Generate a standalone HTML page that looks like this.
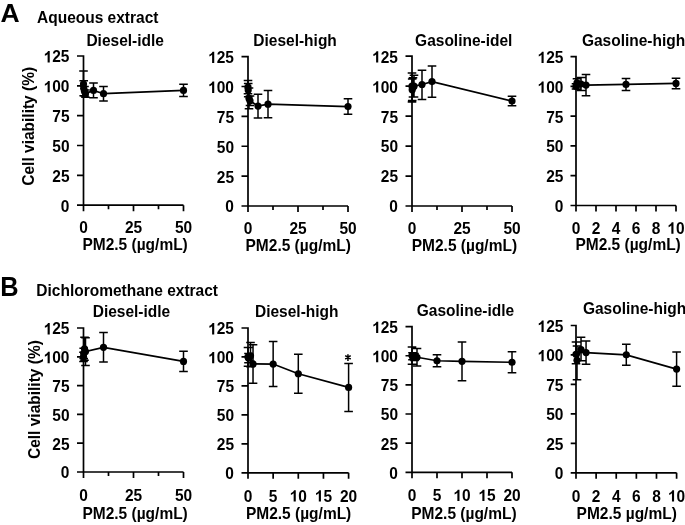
<!DOCTYPE html>
<html><head><meta charset="utf-8"><style>
html,body{margin:0;padding:0;background:#fff;}
body{width:685px;height:525px;overflow:hidden;}
svg{display:block;filter:grayscale(1);}
text{font-family:"Liberation Sans",sans-serif;font-weight:bold;font-size:16.5px;fill:#000;}
</style></head><body>
<svg width="685" height="525" viewBox="0 0 685 525">
<rect width="685" height="525" fill="#fff"/>
<text transform="translate(0.6 22.3) scale(1.02 1)" style="font-size:26px">A</text>
<text transform="translate(37 23) scale(0.94 1)">Aqueous extract</text>
<text transform="translate(0.3 296.0) scale(0.94 1)" style="font-size:27px">B</text>
<text transform="translate(36.3 296.2) scale(0.94 1)">Dichloromethane extract</text>
<text transform="translate(34.4 185.7) rotate(-90) scale(0.94 1)">Cell viability (%)</text>
<text transform="translate(40.1 459) rotate(-90) scale(0.94 1)">Cell viability (%)</text>
<path d="M83.5 55.15V211.2M77 205.2H183.5M77 205.2H83.5M77 175.36H83.5M77 145.52H83.5M77 115.68H83.5M77 85.84H83.5M77 56H83.5M83.5 205.2V211.2M133.5 205.2V211.2M183.5 205.2V211.2M108.5 205.2V209.2M158.5 205.2V209.2" stroke-width="1.7" fill="none" stroke="#000"/>
<text transform="translate(69.5 211.6) scale(0.94 1)" text-anchor="end">0</text>
<text transform="translate(69.5 181.76) scale(0.94 1)" text-anchor="end">25</text>
<text transform="translate(69.5 151.92) scale(0.94 1)" text-anchor="end">50</text>
<text transform="translate(69.5 122.08) scale(0.94 1)" text-anchor="end">75</text>
<text transform="translate(69.5 92.24) scale(0.94 1)" text-anchor="end"> 00</text><path transform="translate(43.64 92.24) scale(0.007568 -0.008057)" d="M806 0H525V1020Q371 880 162 815V1060Q272 1094 401 1190Q530 1286 578 1409H806Z"/>
<text transform="translate(69.5 62.4) scale(0.94 1)" text-anchor="end"> 25</text><path transform="translate(43.64 62.4) scale(0.007568 -0.008057)" d="M806 0H525V1020Q371 880 162 815V1060Q272 1094 401 1190Q530 1286 578 1409H806Z"/>
<text transform="translate(83.5 233.4) scale(0.94 1)" text-anchor="middle">0</text>
<text transform="translate(133.5 233.4) scale(0.94 1)" text-anchor="middle">25</text>
<text transform="translate(183.5 233.4) scale(0.94 1)" text-anchor="middle">50</text>
<text transform="translate(135.1 250.1) scale(0.94 1)" text-anchor="middle">PM2.5 (µg/mL)</text>
<text transform="translate(86.4 46) scale(0.94 1)">Diesel-idle</text>
<path d="M83.5 84.05 L83.7 88.23 L84.5 91.21 L85.5 93.6 L93.5 90.38 L103.5 93.72 L183.5 90.38" stroke-width="1.7" fill="none" stroke="#000"/>
<path d="M83.5 70.92V84.05M79.2 70.92H87.8M83.7 80.71V95.75M79.4 80.71H88M79.4 95.75H88M84.5 86.44V95.99M80.2 86.44H88.8M80.2 95.99H88.8M85.5 90.02V97.18M81.2 90.02H89.8M81.2 97.18H89.8M93.5 82.98V97.78M89.2 82.98H97.8M89.2 97.78H97.8M103.5 86.56V100.88M99.2 86.56H107.8M99.2 100.88H107.8M183.5 84.29V96.46M179.2 84.29H187.8M179.2 96.46H187.8" stroke-width="1.5" fill="none" stroke="#000"/>
<circle cx="83.5" cy="84.05" r="3.6"/>
<circle cx="83.7" cy="88.23" r="3.6"/>
<circle cx="84.5" cy="91.21" r="3.6"/>
<circle cx="85.5" cy="93.6" r="3.6"/>
<circle cx="93.5" cy="90.38" r="3.6"/>
<circle cx="103.5" cy="93.72" r="3.6"/>
<circle cx="183.5" cy="90.38" r="3.6"/>
<path d="M248 55.75V212M241.5 206H348M241.5 206H248M241.5 176.12H248M241.5 146.24H248M241.5 116.36H248M241.5 86.48H248M241.5 56.6H248M248 206V212M298 206V212M348 206V212M273 206V210M323 206V210" stroke-width="1.7" fill="none" stroke="#000"/>
<text transform="translate(234 212.4) scale(0.94 1)" text-anchor="end">0</text>
<text transform="translate(234 182.52) scale(0.94 1)" text-anchor="end">25</text>
<text transform="translate(234 152.64) scale(0.94 1)" text-anchor="end">50</text>
<text transform="translate(234 122.76) scale(0.94 1)" text-anchor="end">75</text>
<text transform="translate(234 92.88) scale(0.94 1)" text-anchor="end"> 00</text><path transform="translate(208.14 92.88) scale(0.007568 -0.008057)" d="M806 0H525V1020Q371 880 162 815V1060Q272 1094 401 1190Q530 1286 578 1409H806Z"/>
<text transform="translate(234 63) scale(0.94 1)" text-anchor="end"> 25</text><path transform="translate(208.14 63) scale(0.007568 -0.008057)" d="M806 0H525V1020Q371 880 162 815V1060Q272 1094 401 1190Q530 1286 578 1409H806Z"/>
<text transform="translate(248 234.2) scale(0.94 1)" text-anchor="middle">0</text>
<text transform="translate(298 234.2) scale(0.94 1)" text-anchor="middle">25</text>
<text transform="translate(348 234.2) scale(0.94 1)" text-anchor="middle">50</text>
<text transform="translate(298.2 250.9) scale(0.94 1)" text-anchor="middle">PM2.5 (µg/mL)</text>
<text transform="translate(253.3 46.3) scale(0.94 1)">Diesel-high</text>
<path d="M248 87.08 L248.2 90.07 L249 98.43 L250 100.82 L258 106.08 L268 104.17 L348 106.56" stroke-width="1.7" fill="none" stroke="#000"/>
<path d="M248 80.5V93.65M243.7 80.5H252.3M243.7 93.65H252.3M248.2 83.49V96.64M243.9 83.49H252.5M243.9 96.64H252.5M249 88.03V108.83M244.7 88.03H253.3M244.7 108.83H253.3M250 96.04V105.6M245.7 96.04H254.3M245.7 105.6H254.3M258 94.13V118.03M253.7 94.13H262.3M253.7 118.03H262.3M268 90.54V117.79M263.7 90.54H272.3M263.7 117.79H272.3M348 98.79V114.33M343.7 98.79H352.3M343.7 114.33H352.3" stroke-width="1.5" fill="none" stroke="#000"/>
<circle cx="248" cy="87.08" r="3.6"/>
<circle cx="248.2" cy="90.07" r="3.6"/>
<circle cx="249" cy="98.43" r="3.6"/>
<circle cx="250" cy="100.82" r="3.6"/>
<circle cx="258" cy="106.08" r="3.6"/>
<circle cx="268" cy="104.17" r="3.6"/>
<circle cx="348" cy="106.56" r="3.6"/>
<path d="M412 55.35V212M405.5 206H512M405.5 206H412M405.5 176.04H412M405.5 146.08H412M405.5 116.12H412M405.5 86.16H412M405.5 56.2H412M412 206V212M462 206V212M512 206V212M437 206V210M487 206V210" stroke-width="1.7" fill="none" stroke="#000"/>
<text transform="translate(398 212.4) scale(0.94 1)" text-anchor="end">0</text>
<text transform="translate(398 182.44) scale(0.94 1)" text-anchor="end">25</text>
<text transform="translate(398 152.48) scale(0.94 1)" text-anchor="end">50</text>
<text transform="translate(398 122.52) scale(0.94 1)" text-anchor="end">75</text>
<text transform="translate(398 92.56) scale(0.94 1)" text-anchor="end"> 00</text><path transform="translate(372.14 92.56) scale(0.007568 -0.008057)" d="M806 0H525V1020Q371 880 162 815V1060Q272 1094 401 1190Q530 1286 578 1409H806Z"/>
<text transform="translate(398 62.6) scale(0.94 1)" text-anchor="end"> 25</text><path transform="translate(372.14 62.6) scale(0.007568 -0.008057)" d="M806 0H525V1020Q371 880 162 815V1060Q272 1094 401 1190Q530 1286 578 1409H806Z"/>
<text transform="translate(412 234.2) scale(0.94 1)" text-anchor="middle">0</text>
<text transform="translate(462 234.2) scale(0.94 1)" text-anchor="middle">25</text>
<text transform="translate(512 234.2) scale(0.94 1)" text-anchor="middle">50</text>
<text transform="translate(464.4 250.9) scale(0.94 1)" text-anchor="middle">PM2.5 (µg/mL)</text>
<text transform="translate(415.1 46.2) scale(0.94 1)">Gasoline-idel</text>
<path d="M412 86.16 L412.2 89.76 L413 87.36 L414 86.16 L422 84.48 L432 81.61 L512 101.02" stroke-width="1.7" fill="none" stroke="#000"/>
<path d="M412 72.98V101.98M407.7 72.98H416.3M407.7 101.98H416.3M412.2 78.97V100.54M407.9 78.97H416.5M407.9 100.54H416.5M413 77.77V96.95M408.7 77.77H417.3M408.7 96.95H417.3M414 75.37V96.95M409.7 75.37H418.3M409.7 96.95H418.3M422 70.22V99.46M417.7 70.22H426.3M417.7 99.46H426.3M432 65.91V97.31M427.7 65.91H436.3M427.7 97.31H436.3M512 96.23V105.81M507.7 96.23H516.3M507.7 105.81H516.3" stroke-width="1.5" fill="none" stroke="#000"/>
<circle cx="412" cy="86.16" r="3.6"/>
<circle cx="412.2" cy="89.76" r="3.6"/>
<circle cx="413" cy="87.36" r="3.6"/>
<circle cx="414" cy="86.16" r="3.6"/>
<circle cx="422" cy="84.48" r="3.6"/>
<circle cx="432" cy="81.61" r="3.6"/>
<circle cx="512" cy="101.02" r="3.6"/>
<path d="M576 55.75V211.5M570.5 205.5H676M570.5 205.5H576M570.5 175.72H576M570.5 145.94H576M570.5 116.16H576M570.5 86.38H576M570.5 56.6H576M576 205.5V211.5M596 205.5V211.5M616 205.5V211.5M636 205.5V211.5M656 205.5V211.5M676 205.5V211.5" stroke-width="1.7" fill="none" stroke="#000"/>
<text transform="translate(563.4 211.9) scale(0.94 1)" text-anchor="end">0</text>
<text transform="translate(563.4 182.12) scale(0.94 1)" text-anchor="end">25</text>
<text transform="translate(563.4 152.34) scale(0.94 1)" text-anchor="end">50</text>
<text transform="translate(563.4 122.56) scale(0.94 1)" text-anchor="end">75</text>
<text transform="translate(563.4 92.78) scale(0.94 1)" text-anchor="end"> 00</text><path transform="translate(537.54 92.78) scale(0.007568 -0.008057)" d="M806 0H525V1020Q371 880 162 815V1060Q272 1094 401 1190Q530 1286 578 1409H806Z"/>
<text transform="translate(563.4 63) scale(0.94 1)" text-anchor="end"> 25</text><path transform="translate(537.54 63) scale(0.007568 -0.008057)" d="M806 0H525V1020Q371 880 162 815V1060Q272 1094 401 1190Q530 1286 578 1409H806Z"/>
<text transform="translate(576 233.7) scale(0.94 1)" text-anchor="middle">0</text>
<text transform="translate(596 233.7) scale(0.94 1)" text-anchor="middle">2</text>
<text transform="translate(616 233.7) scale(0.94 1)" text-anchor="middle">4</text>
<text transform="translate(636 233.7) scale(0.94 1)" text-anchor="middle">6</text>
<text transform="translate(656 233.7) scale(0.94 1)" text-anchor="middle">8</text>
<text transform="translate(676 233.7) scale(0.94 1)" text-anchor="middle"> 0</text><path transform="translate(667.38 233.7) scale(0.007568 -0.008057)" d="M806 0H525V1020Q371 880 162 815V1060Q272 1094 401 1190Q530 1286 578 1409H806Z"/>
<text transform="translate(628.1 250.4) scale(0.94 1)" text-anchor="middle">PM2.5 (µg/mL)</text>
<text transform="translate(581.9 46.3) scale(0.94 1)">Gasoline-high</text>
<path d="M576 86.38 L577 82.81 L581 84 L586 85.07 L626 84.47 L676 83.4" stroke-width="1.7" fill="none" stroke="#000"/>
<path d="M576 83.64V89.12M571.7 83.64H580.3M571.7 89.12H580.3M577 78.64V86.98M572.7 78.64H581.3M572.7 86.98H581.3M581 77.45V90.55M576.7 77.45H585.3M576.7 90.55H585.3M586 74.47V95.67M581.7 74.47H590.3M581.7 95.67H590.3M626 78.52V90.43M621.7 78.52H630.3M621.7 90.43H630.3M676 78.16V88.64M671.7 78.16H680.3M671.7 88.64H680.3" stroke-width="1.5" fill="none" stroke="#000"/>
<circle cx="576" cy="86.38" r="3.6"/>
<circle cx="577" cy="82.81" r="3.6"/>
<circle cx="581" cy="84" r="3.6"/>
<circle cx="586" cy="85.07" r="3.6"/>
<circle cx="626" cy="84.47" r="3.6"/>
<circle cx="676" cy="83.4" r="3.6"/>
<path d="M83.5 327.15V478M77 472H183.5M77 472H83.5M77 443.2H83.5M77 414.4H83.5M77 385.6H83.5M77 356.8H83.5M77 328H83.5M83.5 472V478M133.5 472V478M183.5 472V478M108.5 472V476M158.5 472V476" stroke-width="1.7" fill="none" stroke="#000"/>
<text transform="translate(69.5 478.4) scale(0.94 1)" text-anchor="end">0</text>
<text transform="translate(69.5 449.6) scale(0.94 1)" text-anchor="end">25</text>
<text transform="translate(69.5 420.8) scale(0.94 1)" text-anchor="end">50</text>
<text transform="translate(69.5 392) scale(0.94 1)" text-anchor="end">75</text>
<text transform="translate(69.5 363.2) scale(0.94 1)" text-anchor="end"> 00</text><path transform="translate(43.64 363.2) scale(0.007568 -0.008057)" d="M806 0H525V1020Q371 880 162 815V1060Q272 1094 401 1190Q530 1286 578 1409H806Z"/>
<text transform="translate(69.5 334.4) scale(0.94 1)" text-anchor="end"> 25</text><path transform="translate(43.64 334.4) scale(0.007568 -0.008057)" d="M806 0H525V1020Q371 880 162 815V1060Q272 1094 401 1190Q530 1286 578 1409H806Z"/>
<text transform="translate(83.5 500.7) scale(0.94 1)" text-anchor="middle">0</text>
<text transform="translate(133.5 500.7) scale(0.94 1)" text-anchor="middle">25</text>
<text transform="translate(183.5 500.7) scale(0.94 1)" text-anchor="middle">50</text>
<text transform="translate(135.1 518.5) scale(0.94 1)" text-anchor="middle">PM2.5 (µg/mL)</text>
<text transform="translate(92.7 317.3) scale(0.94 1)">Diesel-idle</text>
<path d="M83.5 356.8 L83.7 353.34 L84.5 348.74 L85.5 351.62 L103.5 347.35 L183.5 361.41" stroke-width="1.7" fill="none" stroke="#000"/>
<path d="M83.5 352.19V361.41M79.2 352.19H87.8M79.2 361.41H87.8M83.7 348.16V358.53M79.4 348.16H88M79.4 358.53H88M84.5 337.22V360.26M80.2 337.22H88.8M80.2 360.26H88.8M85.5 337.79V365.44M81.2 337.79H89.8M81.2 365.44H89.8M103.5 332.61V362.1M99.2 332.61H107.8M99.2 362.1H107.8M183.5 351.27V371.55M179.2 351.27H187.8M179.2 371.55H187.8" stroke-width="1.5" fill="none" stroke="#000"/>
<circle cx="83.5" cy="356.8" r="3.6"/>
<circle cx="83.7" cy="353.34" r="3.6"/>
<circle cx="84.5" cy="348.74" r="3.6"/>
<circle cx="85.5" cy="351.62" r="3.6"/>
<circle cx="103.5" cy="347.35" r="3.6"/>
<circle cx="183.5" cy="361.41" r="3.6"/>
<path d="M248 327.15V478.8M241.5 472.8H348.6M241.5 472.8H248M241.5 443.84H248M241.5 414.88H248M241.5 385.92H248M241.5 356.96H248M241.5 328H248M248 472.8V478.8M273.15 472.8V478.8M298.3 472.8V478.8M323.45 472.8V478.8M348.6 472.8V478.8" stroke-width="1.7" fill="none" stroke="#000"/>
<text transform="translate(234 479.2) scale(0.94 1)" text-anchor="end">0</text>
<text transform="translate(234 450.24) scale(0.94 1)" text-anchor="end">25</text>
<text transform="translate(234 421.28) scale(0.94 1)" text-anchor="end">50</text>
<text transform="translate(234 392.32) scale(0.94 1)" text-anchor="end">75</text>
<text transform="translate(234 363.36) scale(0.94 1)" text-anchor="end"> 00</text><path transform="translate(208.14 363.36) scale(0.007568 -0.008057)" d="M806 0H525V1020Q371 880 162 815V1060Q272 1094 401 1190Q530 1286 578 1409H806Z"/>
<text transform="translate(234 334.4) scale(0.94 1)" text-anchor="end"> 25</text><path transform="translate(208.14 334.4) scale(0.007568 -0.008057)" d="M806 0H525V1020Q371 880 162 815V1060Q272 1094 401 1190Q530 1286 578 1409H806Z"/>
<text transform="translate(248 501.5) scale(0.94 1)" text-anchor="middle">0</text>
<text transform="translate(273.15 501.5) scale(0.94 1)" text-anchor="middle">5</text>
<text transform="translate(298.3 501.5) scale(0.94 1)" text-anchor="middle"> 0</text><path transform="translate(289.68 501.5) scale(0.007568 -0.008057)" d="M806 0H525V1020Q371 880 162 815V1060Q272 1094 401 1190Q530 1286 578 1409H806Z"/>
<text transform="translate(323.45 501.5) scale(0.94 1)" text-anchor="middle"> 5</text><path transform="translate(314.83 501.5) scale(0.007568 -0.008057)" d="M806 0H525V1020Q371 880 162 815V1060Q272 1094 401 1190Q530 1286 578 1409H806Z"/>
<text transform="translate(348.6 501.5) scale(0.94 1)" text-anchor="middle">20</text>
<text transform="translate(298.6 519.3) scale(0.94 1)" text-anchor="middle">PM2.5 (µg/mL)</text>
<text transform="translate(255 316.9) scale(0.94 1)">Diesel-high</text>
<path d="M248 356.96 L248.5 358.12 L250.51 355.8 L253.03 363.91 L273.15 364.03 L298.3 373.76 L348.6 387.43" stroke-width="1.7" fill="none" stroke="#000"/>
<path d="M248 347.58V366.34M243.7 347.58H252.3M243.7 366.34H252.3M248.5 353.48V362.75M244.2 353.48H252.8M244.2 362.75H252.8M250.51 342.48V366.81M246.21 342.48H254.81M246.21 366.81H254.81M253.03 344.68V383.14M248.73 344.68H257.33M248.73 383.14H257.33M273.15 341.44V386.62M268.85 341.44H277.45M268.85 386.62H277.45M298.3 354.3V393.22M294 354.3H302.6M294 393.22H302.6M348.6 363.45V411.4M344.3 363.45H352.9M344.3 411.4H352.9" stroke-width="1.5" fill="none" stroke="#000"/>
<circle cx="248" cy="356.96" r="3.6"/>
<circle cx="248.5" cy="358.12" r="3.6"/>
<circle cx="250.51" cy="355.8" r="3.6"/>
<circle cx="253.03" cy="363.91" r="3.6"/>
<circle cx="273.15" cy="364.03" r="3.6"/>
<circle cx="298.3" cy="373.76" r="3.6"/>
<circle cx="348.6" cy="387.43" r="3.6"/>
<path d="M412 325.75V478.3M405.5 472.3H512M405.5 472.3H412M405.5 443.16H412M405.5 414.02H412M405.5 384.88H412M405.5 355.74H412M405.5 326.6H412M412 472.3V478.3M437 472.3V478.3M462 472.3V478.3M487 472.3V478.3M512 472.3V478.3" stroke-width="1.7" fill="none" stroke="#000"/>
<text transform="translate(398 478.7) scale(0.94 1)" text-anchor="end">0</text>
<text transform="translate(398 449.56) scale(0.94 1)" text-anchor="end">25</text>
<text transform="translate(398 420.42) scale(0.94 1)" text-anchor="end">50</text>
<text transform="translate(398 391.28) scale(0.94 1)" text-anchor="end">75</text>
<text transform="translate(398 362.14) scale(0.94 1)" text-anchor="end"> 00</text><path transform="translate(372.14 362.14) scale(0.007568 -0.008057)" d="M806 0H525V1020Q371 880 162 815V1060Q272 1094 401 1190Q530 1286 578 1409H806Z"/>
<text transform="translate(398 333) scale(0.94 1)" text-anchor="end"> 25</text><path transform="translate(372.14 333) scale(0.007568 -0.008057)" d="M806 0H525V1020Q371 880 162 815V1060Q272 1094 401 1190Q530 1286 578 1409H806Z"/>
<text transform="translate(412 501) scale(0.94 1)" text-anchor="middle">0</text>
<text transform="translate(437 501) scale(0.94 1)" text-anchor="middle">5</text>
<text transform="translate(462 501) scale(0.94 1)" text-anchor="middle"> 0</text><path transform="translate(453.38 501) scale(0.007568 -0.008057)" d="M806 0H525V1020Q371 880 162 815V1060Q272 1094 401 1190Q530 1286 578 1409H806Z"/>
<text transform="translate(487 501) scale(0.94 1)" text-anchor="middle"> 5</text><path transform="translate(478.38 501) scale(0.007568 -0.008057)" d="M806 0H525V1020Q371 880 162 815V1060Q272 1094 401 1190Q530 1286 578 1409H806Z"/>
<text transform="translate(512 501) scale(0.94 1)" text-anchor="middle">20</text>
<text transform="translate(463.9 518.8) scale(0.94 1)" text-anchor="middle">PM2.5 (µg/mL)</text>
<text transform="translate(416.8 316.1) scale(0.94 1)">Gasoline-idle</text>
<path d="M412 355.62 L412.5 356.32 L414.5 356.91 L417 357.26 L437 360.75 L462 361.33 L512 362.27" stroke-width="1.7" fill="none" stroke="#000"/>
<path d="M412 346.88V364.37M407.7 346.88H416.3M407.7 364.37H416.3M412.5 352.83V359.82M408.2 352.83H416.8M408.2 359.82H416.8M414.5 353.41V360.4M410.2 353.41H418.8M410.2 360.4H418.8M417 348.51V366M412.7 348.51H421.3M412.7 366H421.3M437 354.69V366.81M432.7 354.69H441.3M432.7 366.81H441.3M462 341.99V380.68M457.7 341.99H466.3M457.7 380.68H466.3M512 351.66V372.87M507.7 351.66H516.3M507.7 372.87H516.3" stroke-width="1.5" fill="none" stroke="#000"/>
<circle cx="412" cy="355.62" r="3.6"/>
<circle cx="412.5" cy="356.32" r="3.6"/>
<circle cx="414.5" cy="356.91" r="3.6"/>
<circle cx="417" cy="357.26" r="3.6"/>
<circle cx="437" cy="360.75" r="3.6"/>
<circle cx="462" cy="361.33" r="3.6"/>
<circle cx="512" cy="362.27" r="3.6"/>
<path d="M576 324.65V478.8M570.7 472.8H676.6M570.7 472.8H576M570.7 443.34H576M570.7 413.88H576M570.7 384.42H576M570.7 354.96H576M570.7 325.5H576M576 472.8V478.8M596.12 472.8V478.8M616.24 472.8V478.8M636.36 472.8V478.8M656.48 472.8V478.8M676.6 472.8V478.8" stroke-width="1.7" fill="none" stroke="#000"/>
<text transform="translate(563.4 479.2) scale(0.94 1)" text-anchor="end">0</text>
<text transform="translate(563.4 449.74) scale(0.94 1)" text-anchor="end">25</text>
<text transform="translate(563.4 420.28) scale(0.94 1)" text-anchor="end">50</text>
<text transform="translate(563.4 390.82) scale(0.94 1)" text-anchor="end">75</text>
<text transform="translate(563.4 361.36) scale(0.94 1)" text-anchor="end"> 00</text><path transform="translate(537.54 361.36) scale(0.007568 -0.008057)" d="M806 0H525V1020Q371 880 162 815V1060Q272 1094 401 1190Q530 1286 578 1409H806Z"/>
<text transform="translate(563.4 331.9) scale(0.94 1)" text-anchor="end"> 25</text><path transform="translate(537.54 331.9) scale(0.007568 -0.008057)" d="M806 0H525V1020Q371 880 162 815V1060Q272 1094 401 1190Q530 1286 578 1409H806Z"/>
<text transform="translate(576 501.5) scale(0.94 1)" text-anchor="middle">0</text>
<text transform="translate(596.12 501.5) scale(0.94 1)" text-anchor="middle">2</text>
<text transform="translate(616.24 501.5) scale(0.94 1)" text-anchor="middle">4</text>
<text transform="translate(636.36 501.5) scale(0.94 1)" text-anchor="middle">6</text>
<text transform="translate(656.48 501.5) scale(0.94 1)" text-anchor="middle">8</text>
<text transform="translate(676.6 501.5) scale(0.94 1)" text-anchor="middle"> 0</text><path transform="translate(667.98 501.5) scale(0.007568 -0.008057)" d="M806 0H525V1020Q371 880 162 815V1060Q272 1094 401 1190Q530 1286 578 1409H806Z"/>
<text transform="translate(576.6 519.3) scale(0.94 1)">PM2.5 µg/mL)</text>
<text transform="translate(582.9 314) scale(0.94 1)">Gasoline-high</text>
<path d="M576 354.37 L577.01 360.26 L581.03 349.66 L586.06 352.6 L626.3 354.84 L676.6 369.1" stroke-width="1.7" fill="none" stroke="#000"/>
<path d="M576 342.12V363.8M571.7 342.12H580.3M571.7 363.8H580.3M577.01 346V379.71M572.71 346H581.31M572.71 379.71H581.31M581.03 337.28V360.85M576.73 337.28H585.33M576.73 360.85H585.33M586.06 341.05V364.15M581.76 341.05H590.36M581.76 364.15H590.36M626.3 344.35V365.33M622 344.35H630.6M622 365.33H630.6M676.6 352.01V386.19M672.3 352.01H680.9M672.3 386.19H680.9" stroke-width="1.5" fill="none" stroke="#000"/>
<circle cx="576" cy="354.37" r="3.6"/>
<circle cx="577.01" cy="360.26" r="3.6"/>
<circle cx="581.03" cy="349.66" r="3.6"/>
<circle cx="586.06" cy="352.6" r="3.6"/>
<circle cx="626.3" cy="354.84" r="3.6"/>
<circle cx="676.6" cy="369.1" r="3.6"/>
<path d="M347.95 354.2V360.9M345.2 355.6L350.7 359M345.2 359L350.7 355.6" stroke="#000" stroke-width="1.5" fill="none"/>
</svg>
</body></html>
